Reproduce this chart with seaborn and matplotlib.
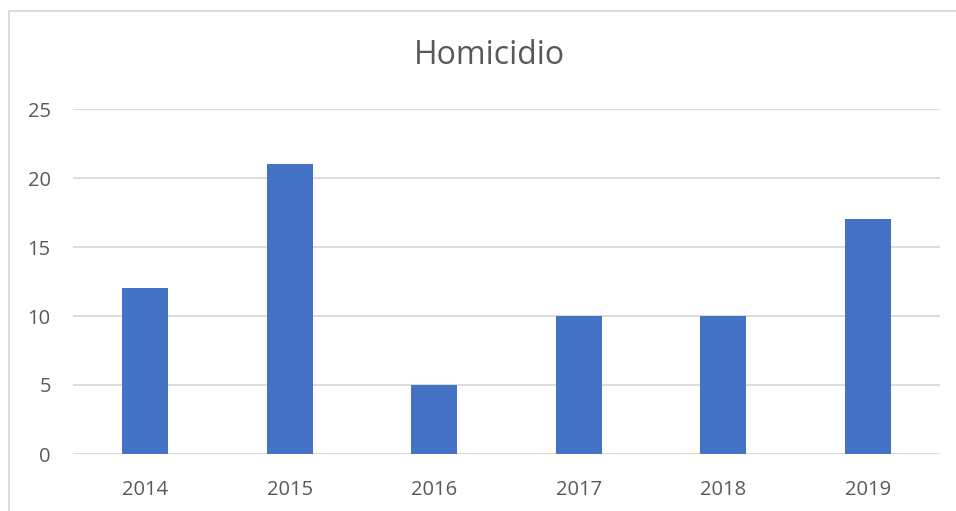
import matplotlib
matplotlib.use("Agg")
import matplotlib.pyplot as plt
import seaborn as sns
import pandas as pd
from matplotlib.patches import Rectangle

# datos
anios = ["2014", "2015", "2016", "2017", "2018", "2019"]
homicidios = [12, 21, 5, 10, 10, 17]

df = pd.DataFrame({"anio": anios, "casos": homicidios})

sns.set_style("white")
plt.rcParams["font.family"] = ["Open Sans", "DejaVu Sans"]

texto = "#595959"

fig = plt.figure(figsize=(9.56, 5.11), dpi=100)
ax = fig.add_axes([73 / 956, 1 - 454 / 511, (940 - 73) / 956, (454 - 109) / 511])

sns.barplot(data=df, x="anio", y="casos", color="#4472C4", width=0.32,
            saturation=1, linewidth=0, ax=ax, zorder=3)

ax.set_ylim(0, 25)
ax.set_yticks([0, 5, 10, 15, 20, 25])
ax.set_xlim(-0.5, 5.5)
ax.grid(axis="y", color="#d9d9d9", linewidth=1.3, zorder=0)
ax.set_axisbelow(True)
for s in ax.spines.values():
    s.set_visible(False)
ax.set_xlabel("")
ax.set_ylabel("")
ax.tick_params(axis="y", length=0, pad=16, labelsize=14.5, labelcolor=texto)
ax.tick_params(axis="x", length=0, pad=19, labelsize=14.5, labelcolor=texto)

fig.text(489 / 956, 1 - 55 / 511, "Homicidio", ha="center", va="center",
         fontsize=23, color=texto)

# marco gris del área del gráfico
fig.patches.append(Rectangle((9 / 956, -0.1), 1.1, 1.1 - 11 / 511,
                             transform=fig.transFigure, fill=False,
                             edgecolor="#d9d9d9", linewidth=1.3, clip_on=False))

fig.savefig("out.png", dpi=100)
